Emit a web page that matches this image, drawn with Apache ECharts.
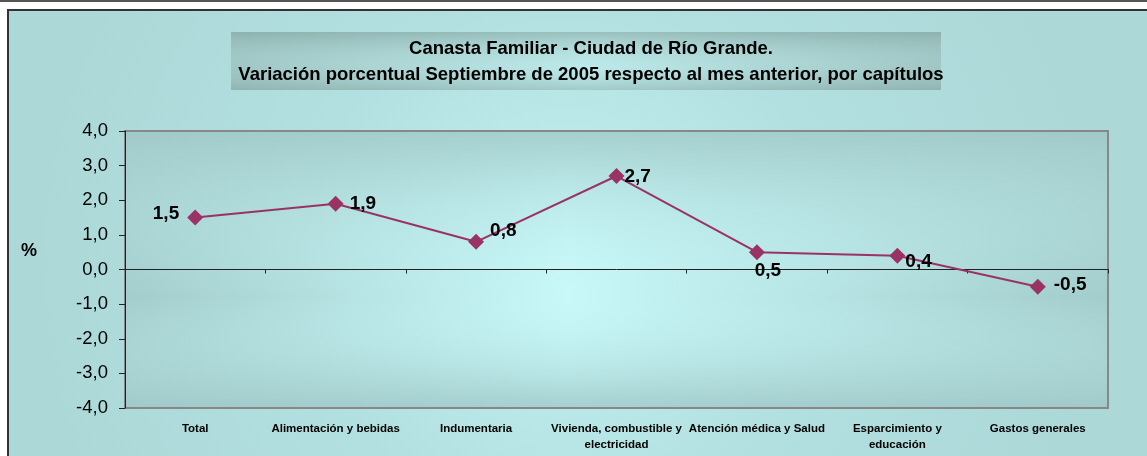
<!DOCTYPE html>
<html><head><meta charset="utf-8">
<script src="https://cdn.jsdelivr.net/npm/echarts@6/dist/echarts.min.js"></script>
<style>html,body{margin:0;padding:0;background:#fff}#c{width:1147px;height:456px}</style>
</head><body><div id="c"></div>
<script>
const titleLines = ['Canasta Familiar - Ciudad de Río Grande.', 'Variación porcentual Septiembre de 2005 respecto al mes anterior, por capítulos'];
const categories = ['Total', 'Alimentación y bebidas', 'Indumentaria', 'Vivienda, combustible y\nelectricidad', 'Atención médica y Salud', 'Esparcimiento y\neducación', 'Gastos generales'];
const values = [1.5, 1.9, 0.8, 2.7, 0.5, 0.4, -0.5];
const yTicks = [-4, -3, -2, -1, 0, 1, 2, 3, 4];
const yAxisName = '%';

const FONT = '"Liberation Sans", Arial, sans-serif';
const fmt = v => v.toFixed(1).replace('.', ',');

const labelPos = [
  {position: 'left', distance: 8, offset: [0, -4]},
  {position: 'right', distance: 6, offset: [0, 0]},
  {position: 'right', distance: 6, offset: [0, -11]},
  {position: 'right', distance: 0, offset: [0, 1]},
  {position: 'bottom', distance: 1, offset: [11, 0]},
  {position: 'right', distance: 0, offset: [0, 6]},
  {position: 'right', distance: 8, offset: [0, -2]}
];

const PL = 125, PT = 131, PW = 983, PH = 277;

const chart = echarts.init(document.getElementById('c'), null, {renderer: 'canvas'});
chart.setOption({
  backgroundColor: '#ffffff',
  animation: false,
  graphic: [
    {type: 'rect', z: -10, silent: true, shape: {x: 0, y: 0, width: 1147, height: 2}, style: {fill: '#555'}},
    {type: 'rect', z: -10, silent: true, shape: {x: 8, y: 10, width: 1160, height: 460},
      style: {stroke: '#333', lineWidth: 2,
        fill: {type: 'radial', x: 0.48, y: 0.55, r: 1.15, colorStops: [
          {offset: 0, color: '#c4f3f3'}, {offset: 0.5, color: '#b2dfdf'}, {offset: 1, color: '#acd8d8'}]}}},
    {type: 'rect', z: -9, silent: true, shape: {x: 231, y: 32, width: 710, height: 58},
      style: {fill: {type: 'linear', x: 0, y: 0, x2: 1, y2: 0, colorStops: [
          {offset: 0, color: '#93b7b4'}, {offset: 0.5, color: '#b8e6e6'}, {offset: 1, color: '#93b7b4'}]}}},
    {type: 'rect', z: -8, silent: true, shape: {x: 231, y: 32, width: 710, height: 58},
      style: {fill: {type: 'linear', x: 0, y: 0, x2: 0, y2: 1, colorStops: [
          {offset: 0, color: 'rgba(140,176,172,0.7)'}, {offset: 0.6, color: 'rgba(200,245,245,0.25)'}, {offset: 1, color: 'rgba(140,176,172,0.5)'}]}}},
    {type: 'rect', z: -7, silent: true, shape: {x: PL, y: PT, width: PW, height: PH},
      style: {fill: {type: 'linear', x: 0, y: 0, x2: 1, y2: 0, colorStops: [
          {offset: 0, color: '#a3cccc'}, {offset: 0.45, color: '#c8f8f8'}, {offset: 1, color: '#a3cccc'}]}}},
    {type: 'rect', z: -6, silent: true, shape: {x: PL, y: PT, width: PW, height: PH},
      style: {fill: {type: 'linear', x: 0, y: 0, x2: 0, y2: 1, colorStops: [
          {offset: 0, color: 'rgba(160,200,200,0.85)'}, {offset: 0.6, color: 'rgba(200,248,248,0)'}, {offset: 1, color: 'rgba(160,200,200,0.85)'}]}}},
    {type: 'text', left: 21, top: 242, style: {text: yAxisName, font: 'bold 18px ' + FONT, fill: '#000'}}
  ],
  title: {
    text: titleLines.join('\n'), left: 586, top: 31, textAlign: 'center',
    textStyle: {fontFamily: FONT, fontWeight: 'bold', fontSize: 18.5, lineHeight: 26, color: '#000'}
  },
  grid: {
    left: PL, top: PT, right: 1147 - PL - PW, bottom: 456 - PT - PH, show: true,
    borderColor: '#888', borderWidth: 2, backgroundColor: 'transparent'
  },
  xAxis: [
    {type: 'category', data: categories, boundaryGap: true,
      axisLine: {onZero: true, lineStyle: {color: '#222', width: 1}},
      axisTick: {show: true, interval: 0, inside: false, length: 4, lineStyle: {color: '#222'}},
      axisLabel: {show: false}, splitLine: {show: false}},
    {type: 'category', data: categories, position: 'bottom', boundaryGap: true,
      axisLine: {show: false, onZero: false}, axisTick: {show: false},
      axisLabel: {show: true, interval: 0, margin: 13, fontFamily: FONT, fontWeight: 'bold', fontSize: 11.5, lineHeight: 16, color: '#000'}}
  ],
  yAxis: {
    type: 'value', min: yTicks[0], max: yTicks[yTicks.length - 1], interval: 1,
    axisLine: {show: true, lineStyle: {color: '#222', width: 1}},
    axisTick: {show: true, length: 6, lineStyle: {color: '#222'}},
    splitLine: {show: false},
    axisLabel: {formatter: v => fmt(v), fontFamily: FONT, fontSize: 18.5, color: '#000', margin: 17}
  },
  series: [{
    type: 'line', data: values.map((v, i) => ({value: v, label: labelPos[i]})),
    symbol: 'diamond', symbolSize: 16,
    lineStyle: {color: '#993366', width: 2},
    itemStyle: {color: '#993366'},
    label: {show: true, formatter: p => fmt(p.value), fontFamily: FONT, fontWeight: 'bold', fontSize: 19, color: '#000'}
  }]
});
</script></body></html>
